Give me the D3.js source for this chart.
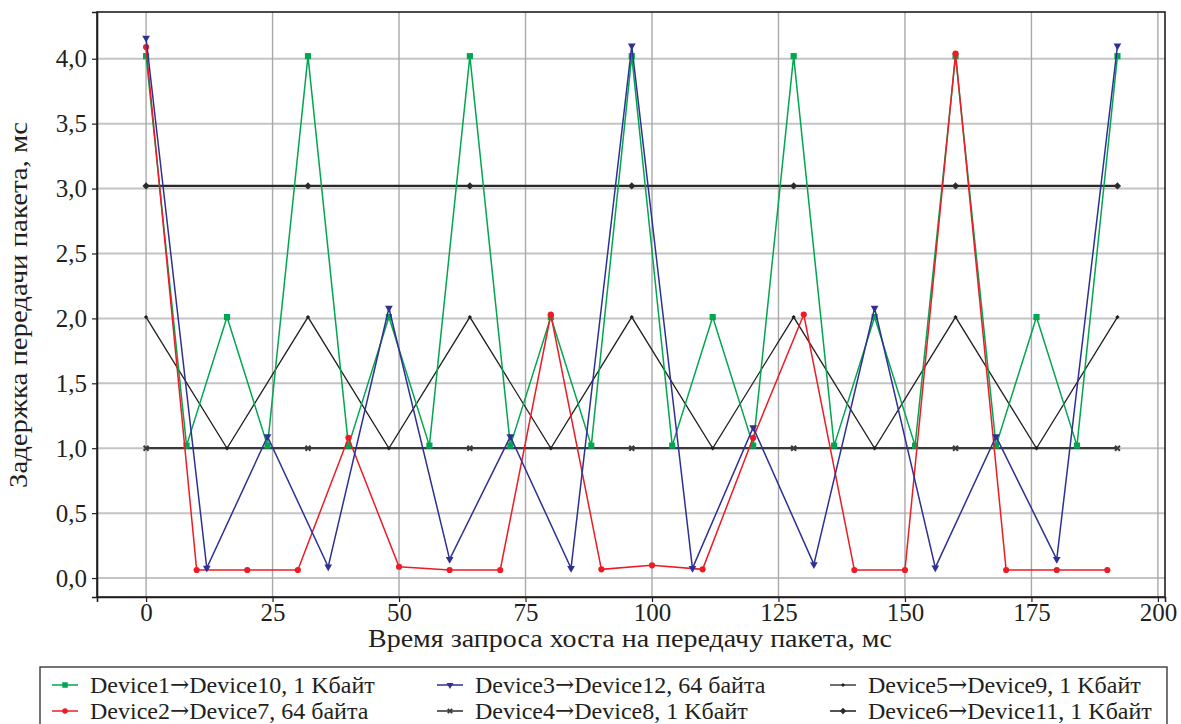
<!DOCTYPE html>
<html>
<head>
<meta charset="utf-8">
<script src="https://cdn.jsdelivr.net/npm/d3@7"></script>
<style>
  body { margin: 0; background: #fff; }
  text { font-family: "Liberation Serif", "DejaVu Serif", serif; fill: #231f20; }
</style>
</head>
<body>
<div id="chart"></div>
<script>
// data
var xGreen = [0, 8, 16, 24, 32, 40, 48, 56, 64, 72, 80, 88, 96, 104, 112, 120, 128, 136, 144, 152, 160, 168, 176, 184, 192];
var yGreen = [4.02, 1.02, 2.01, 1.02, 4.02, 1.02, 2.01, 1.02, 4.02, 1.02, 2.01, 1.02, 4.02, 1.02, 2.01, 1.02, 4.02, 1.02, 2.01, 1.02, 4.02, 1.02, 2.01, 1.02, 4.02];

var xRed = [0, 10, 20, 30, 40, 50, 60, 70, 80, 90, 100, 110, 120, 130, 140, 150, 160, 170, 180, 190];
var yRed = [4.09, 0.062, 0.062, 0.062, 1.08, 0.087, 0.062, 0.062, 2.03, 0.067, 0.098, 0.067, 1.08, 2.03, 0.062, 0.062, 4.04, 0.062, 0.062, 0.062];

var xBlue = [0, 12, 24, 36, 48, 60, 72, 84, 96, 108, 120, 132, 144, 156, 168, 180, 192];
var yBlue = [4.16, 0.077, 1.09, 0.087, 2.08, 0.144, 1.09, 0.075, 4.10, 0.075, 1.16, 0.105, 2.08, 0.08, 1.09, 0.144, 4.10];

var xDev4 = [0, 32, 64, 96, 128, 160, 192];
var yDev4 = [1.0, 1.0, 1.0, 1.0, 1.0, 1.0, 1.0];

var xDev5 = [0, 16, 32, 48, 64, 80, 96, 112, 128, 144, 160, 176, 192];
var yDev5 = [2.01, 1.0, 2.01, 1.0, 2.01, 1.0, 2.01, 1.0, 2.01, 1.0, 2.01, 1.0, 2.01];

var xDev6 = [0, 32, 64, 96, 128, 160, 192];
var yDev6 = [3.02, 3.02, 3.02, 3.02, 3.02, 3.02, 3.02];

var xTicks = [0, 25, 50, 75, 100, 125, 150, 175, 200];
var yTicks = [0, 0.5, 1, 1.5, 2, 2.5, 3, 3.5, 4];

// legend labels, split around the arrow
var seriesFrom = ["Device1", "Device2", "Device3", "Device4", "Device5", "Device6"];
var seriesTo = [
  "Device10, 1 K\u0431\u0430\u0439\u0442",
  "Device7, 64 \u0431\u0430\u0439\u0442\u0430",
  "Device12, 64 \u0431\u0430\u0439\u0442\u0430",
  "Device8, 1 K\u0431\u0430\u0439\u0442",
  "Device9, 1 K\u0431\u0430\u0439\u0442",
  "Device11, 1 K\u0431\u0430\u0439\u0442"
];

var xTitle = "Время запроса хоста на передачу пакета, мс";
var yTitle = "Задержка передачи пакета, мс";

(function () {
  var W = 1181, H = 724;
  var pl = 97, pr = 1165, pt = 12, pb = 597;

  var svg = d3.select("#chart").append("svg")
    .attr("width", W)
    .attr("height", H);

  var x = d3.scaleLinear().domain([-9.7, 201.4]).range([pl, pr]);
  var y = d3.scaleLinear().domain([-0.146, 4.36]).range([pb, pt]);

  function pairs(xs, ys) {
    return xs.map(function (d, i) { return [d, ys[i]]; });
  }

  // styles per series, same order as seriesFrom
  var series = [
    { data: pairs(xGreen, yGreen), color: "#00a650", width: 1.5, sym: d3.symbolSquare, size: 38 },
    { data: pairs(xRed, yRed), color: "#ed1c24", width: 1.5, sym: d3.symbolCircle, size: 30 },
    { data: pairs(xBlue, yBlue), color: "#2e3192", width: 1.5, sym: d3.symbolTriangle, size: 26, rot: 180 },
    { data: pairs(xDev4, yDev4), color: "#3a3a3a", width: 2.2, sym: d3.symbolTimes, size: 18, stroke: true },
    { data: pairs(xDev5, yDev5), color: "#231f20", width: 1.3, sym: d3.symbolDiamond2, size: 12 },
    { data: pairs(xDev6, yDev6), color: "#2a2a2a", width: 2.2, sym: d3.symbolDiamond2, size: 34 }
  ];
  var drawOrder = [3, 5, 4, 0, 1, 2];

  // grid
  var grid = svg.append("g");
  grid.selectAll(".hg").data(yTicks).enter().append("line")
    .attr("x1", pl).attr("x2", pr)
    .attr("y1", function (d) { return y(d); })
    .attr("y2", function (d) { return y(d); })
    .attr("stroke", "#c4c4c4").attr("stroke-width", 2);
  grid.selectAll(".vg").data(xTicks).enter().append("line")
    .attr("y1", pt).attr("y2", pb)
    .attr("x1", function (d) { return x(d); })
    .attr("x2", function (d) { return x(d); })
    .attr("stroke", "#a9a9a9").attr("stroke-width", 1.4);

  // frame
  svg.append("rect")
    .attr("x", pl).attr("y", pt)
    .attr("width", pr - pl).attr("height", pb - pt)
    .attr("fill", "none").attr("stroke", "#231f20").attr("stroke-width", 1.6);

  // axes
  var fmt = function (d) { return d3.format(".1f")(d).replace(".", ","); };

  var xAxis = svg.append("g")
    .attr("transform", "translate(0," + pb + ")")
    .call(d3.axisBottom(x).tickValues(xTicks).tickSize(5).tickPadding(1));
  var yAxis = svg.append("g")
    .attr("transform", "translate(" + pl + ",0)")
    .call(d3.axisLeft(y).tickValues(yTicks).tickFormat(fmt).tickSize(5).tickPadding(5));

  [xAxis, yAxis].forEach(function (a) {
    a.select(".domain").attr("stroke", "#231f20").attr("stroke-width", 1.6);
    a.selectAll(".tick line").attr("stroke", "#231f20").attr("stroke-width", 1.2);
    a.selectAll("text")
      .style("font-family", "Liberation Serif")
      .style("font-size", "25px")
      .attr("fill", "#231f20");
  });

  // titles
  svg.append("text")
    .attr("x", 630)
    .attr("y", 647)
    .attr("text-anchor", "middle")
    .attr("textLength", 524)
    .attr("lengthAdjust", "spacingAndGlyphs")
    .style("font-size", "25px")
    .text(xTitle);

  svg.append("text")
    .attr("transform", "translate(27,305) rotate(-90)")
    .attr("text-anchor", "middle")
    .attr("textLength", 366)
    .attr("lengthAdjust", "spacingAndGlyphs")
    .style("font-size", "25px")
    .text(yTitle);

  // lines and markers
  var line = d3.line()
    .x(function (d) { return x(d[0]); })
    .y(function (d) { return y(d[1]); });

  drawOrder.forEach(function (k) {
    var s = series[k];
    var g = svg.append("g");
    g.append("path")
      .attr("d", line(s.data))
      .attr("fill", "none")
      .attr("stroke", s.color)
      .attr("stroke-width", s.width);
    g.selectAll("path.m").data(s.data).enter().append("path")
      .attr("class", "m")
      .attr("d", d3.symbol().type(s.sym).size(s.size))
      .attr("transform", function (d) {
        return "translate(" + x(d[0]) + "," + y(d[1]) + ")" + (s.rot ? " rotate(" + s.rot + ")" : "");
      })
      .attr("fill", s.stroke ? "none" : s.color)
      .attr("stroke", s.stroke ? s.color : "none")
      .attr("stroke-width", s.stroke ? 2 : 0);
  });

  // legend
  var legend = svg.append("g");
  legend.append("rect")
    .attr("x", 40).attr("y", 667)
    .attr("width", 1127).attr("height", 70)
    .attr("fill", "#fff").attr("stroke", "#3a3a3a").attr("stroke-width", 1.4);

  var colX = [52, 437, 830];
  var rowY = [685, 711];

  seriesFrom.forEach(function (from, i) {
    var s = series[i];
    var cx = colX[Math.floor(i / 2)];
    var cy = rowY[i % 2];
    var lg = legend.append("g");
    lg.append("line")
      .attr("x1", cx).attr("x2", cx + 26)
      .attr("y1", cy).attr("y2", cy)
      .attr("stroke", s.color).attr("stroke-width", s.width > 2 ? 1.6 : s.width);
    lg.append("path")
      .attr("d", d3.symbol().type(s.sym).size(s.size * 0.8))
      .attr("transform", "translate(" + (cx + 13) + "," + cy + ")" + (s.rot ? " rotate(" + s.rot + ")" : ""))
      .attr("fill", s.stroke ? "none" : s.color)
      .attr("stroke", s.stroke ? s.color : "none")
      .attr("stroke-width", s.stroke ? 1.8 : 0);
    var t = lg.append("text")
      .attr("x", cx + 38)
      .attr("y", cy + 8)
      .style("font-size", "24px");
    t.append("tspan").text(from);
    t.append("tspan")
      .style("font-family", "DejaVu Serif")
      .style("font-weight", "200")
      .style("font-size", "23px")
      .attr("dy", -1)
      .text("\u2192");
    t.append("tspan").attr("dy", 1).text(seriesTo[i]);
  });
})();
</script>
</body>
</html>
